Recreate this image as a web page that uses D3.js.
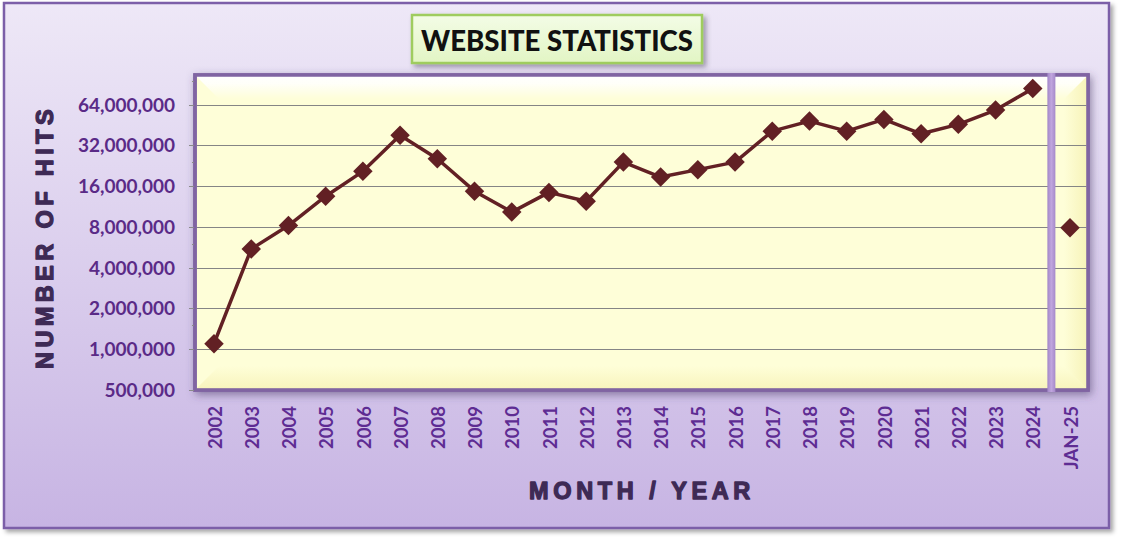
<!DOCTYPE html>
<html><head><meta charset="utf-8">
<script src="https://cdn.jsdelivr.net/npm/d3@7"></script>
<style>body{margin:0;background:#fff;} svg{display:block}</style>
</head><body>
<svg id="c" width="1122" height="541"></svg>
<script>
// ---------- data ----------
const years = ["2002","2003","2004","2005","2006","2007","2008","2009","2010","2011","2012","2013","2014","2015","2016","2017","2018","2019","2020","2021","2022","2023","2024"];
const hits = [1100000, 5500000, 8200000, 13500000, 20600000, 38100000, 25500000, 14700000, 10300000, 14400000, 12400000, 24100000, 18700000, 21200000, 24100000, 40800000, 48400000, 40800000, 49800000, 39000000, 45800000, 58400000, 84100000];
const monthLabels = ["JAN-25"];
const monthHits = [7900000];
const yTicks = [500000, 1000000, 2000000, 4000000, 8000000, 16000000, 32000000, 64000000];
const yMinorTicks = [1500000, 6000000, 24000000, 96000000];
const chartTitle = "WEBSITE STATISTICS";
const yTitle = "NUMBER OF HITS";
const xTitle = "MONTH / YEAR";

const categories = years.concat(monthLabels);

// ---------- layout ----------
const svg = d3.select("#c");
const plotL = 195, plotR = 1088, plotT = 75, plotB = 390;

const x = d3.scalePoint().domain(categories).range([plotL + 0.4, plotR + 0.6]).padding(0.5);
const y = d3.scaleLog().base(2).domain([500000, 106000000]).range([plotB, plotT]);

const defs = svg.append("defs");
const bg = defs.append("linearGradient").attr("id","bg").attr("x1",0).attr("y1",0).attr("x2",0).attr("y2",1);
bg.append("stop").attr("offset","0%").attr("stop-color","#eee8f7");
bg.append("stop").attr("offset","100%").attr("stop-color","#c7b4e3");

const tg = defs.append("linearGradient").attr("id","tg").attr("x1",0).attr("y1",0).attr("x2",0).attr("y2",1);
tg.append("stop").attr("offset","0%").attr("stop-color","#f3fce6");
tg.append("stop").attr("offset","100%").attr("stop-color","#e2f5c4");

const topBev = defs.append("linearGradient").attr("id","topBev").attr("x1",0).attr("y1",0).attr("x2",0).attr("y2",1);
topBev.append("stop").attr("offset","0%").attr("stop-color","#ffffff").attr("stop-opacity",1);
topBev.append("stop").attr("offset","35%").attr("stop-color","#ffffff").attr("stop-opacity",0.85);
topBev.append("stop").attr("offset","100%").attr("stop-color","#ffffff").attr("stop-opacity",0);

const rightBev = defs.append("linearGradient").attr("id","rightBev").attr("x1",0).attr("y1",0).attr("x2",1).attr("y2",0);
rightBev.append("stop").attr("offset","0%").attr("stop-color","#f6f1b4").attr("stop-opacity",0);
rightBev.append("stop").attr("offset","100%").attr("stop-color","#f6f1b4").attr("stop-opacity",0.9);

const botBev = defs.append("linearGradient").attr("id","botBev").attr("x1",0).attr("y1",0).attr("x2",0).attr("y2",1);
botBev.append("stop").attr("offset","0%").attr("stop-color","#f6f1b4").attr("stop-opacity",0);
botBev.append("stop").attr("offset","100%").attr("stop-color","#f6f1b4").attr("stop-opacity",0.8);

const barG = defs.append("linearGradient").attr("id","barG").attr("x1",0).attr("y1",0).attr("x2",1).attr("y2",0);
barG.append("stop").attr("offset","0%").attr("stop-color","#a287c8");
barG.append("stop").attr("offset","50%").attr("stop-color","#c0a5de");
barG.append("stop").attr("offset","100%").attr("stop-color","#a589ca");

function shadow(id, dx, dy, sd, col, op){
  const f = defs.append("filter").attr("id",id).attr("x","-10%").attr("y","-10%").attr("width","120%").attr("height","130%");
  f.append("feDropShadow").attr("dx",dx).attr("dy",dy).attr("stdDeviation",sd).attr("flood-color",col).attr("flood-opacity",op);
}
shadow("shOuter", 3, 3, 2, "#000", 0.35);
shadow("shPlot", 2, 3, 4, "#4a3a66", 0.55);
shadow("shTitle", 3, 3, 2.5, "#3a3050", 0.45);

// outer chart area
svg.append("rect").attr("x",4).attr("y",3).attr("width",1105).attr("height",525)
  .attr("fill","url(#bg)").attr("stroke","#7b5fa8").attr("stroke-width",2.5).attr("filter","url(#shOuter)");

// plot area
svg.append("rect").attr("x",plotL).attr("y",plotT).attr("width",plotR-plotL).attr("height",plotB-plotT)
  .attr("fill","#fefed8").attr("stroke","#8064a2").attr("stroke-width",3.5).attr("filter","url(#shPlot)");
const bev = 24;
svg.append("polygon").attr("points",`${plotR-bev},${plotT+bev} ${plotR},${plotT} ${plotR},${plotB} ${plotR-bev},${plotB-bev}`).attr("fill","url(#rightBev)");
svg.append("polygon").attr("points",`${plotL+bev},${plotB-bev} ${plotR-bev},${plotB-bev} ${plotR},${plotB} ${plotL},${plotB}`).attr("fill","url(#botBev)");
svg.append("polygon").attr("points",`${plotL},${plotT} ${plotR},${plotT} ${plotR-bev},${plotT+bev} ${plotL+bev},${plotT+bev}`).attr("fill","url(#topBev)");

// gridlines
svg.append("g").selectAll("line").data(yTicks.filter(v => v > 500000)).join("line")
  .attr("x1",plotL+1.5).attr("x2",plotR-1.5).attr("y1",d=>Math.round(y(d))+0.5).attr("y2",d=>Math.round(y(d))+0.5)
  .attr("stroke","#858585").attr("stroke-width",1.2);

// re-draw plot border on top
svg.append("rect").attr("x",plotL).attr("y",plotT).attr("width",plotR-plotL).attr("height",plotB-plotT)
  .attr("fill","none").attr("stroke","#8064a2").attr("stroke-width",3.5);

// y axis ticks
svg.append("g").selectAll("line").data(yTicks).join("line")
  .attr("x1",189).attr("x2",plotL-1).attr("y1",d=>Math.round(y(d))+0.5).attr("y2",d=>Math.round(y(d))+0.5)
  .attr("stroke","#8a8a8a").attr("stroke-width",1);
svg.append("g").selectAll("line").data(yMinorTicks).join("line")
  .attr("x1",192).attr("x2",plotL-1).attr("y1",d=>Math.round(y(d))+0.5).attr("y2",d=>Math.round(y(d))+0.5)
  .attr("stroke","#8a8a8a").attr("stroke-width",1);

// y tick labels
const fmt = d3.format(",");
svg.append("g").selectAll("text").data(yTicks).join("text")
  .attr("x",175).attr("y",d=>y(d)).attr("dy","0.36em").attr("text-anchor","end")
  .attr("font-family","Lato, 'Open Sans', sans-serif").attr("font-weight",700).attr("font-size",19)
  .attr("fill","#5a2a87").text(d=>fmt(d));

// x tick labels
svg.append("g").selectAll("text").data(categories).join("text")
  .attr("transform",d=>`translate(${x(d)+1},406) rotate(-90)`).attr("dy","0.36em").attr("text-anchor","end")
  .attr("font-family","Lato, 'Open Sans', sans-serif").attr("font-weight",700).attr("font-size",18.5)
  .attr("fill","#5e2c93").text(d=>d);

// divider bar between years and month
const divX = (x(years[years.length-1]) + x(monthLabels[0])) / 2;
svg.append("rect").attr("x",divX-4).attr("y",plotT-2).attr("width",8).attr("height",plotB-plotT+4)
  .attr("fill","url(#barG)");

// line
const lineCol = "#622024";
const line = d3.line().x((d,i)=>x(years[i])).y(d=>y(d));
svg.append("path").datum(hits).attr("d",line).attr("fill","none").attr("stroke",lineCol)
  .attr("stroke-width",3.5).attr("stroke-linejoin","round");

const sym = d3.symbol().type(d3.symbolSquare).size(190);
svg.append("g").selectAll("path").data(hits).join("path")
  .attr("d",sym).attr("transform",(d,i)=>`translate(${x(years[i])},${y(d)}) rotate(45)`)
  .attr("fill",lineCol);
svg.append("g").selectAll("path").data(monthHits).join("path")
  .attr("d",sym).attr("transform",(d,i)=>`translate(${x(monthLabels[i])},${y(d)}) rotate(45)`)
  .attr("fill",lineCol);

// axis titles (heavy)
svg.append("text").attr("transform",`translate(53,${237}) rotate(-90)`).attr("text-anchor","middle")
  .attr("font-family","'Liberation Sans', Arial, sans-serif").attr("font-weight",700).attr("font-size",23.5)
  .attr("letter-spacing","4.4px").attr("fill","#3e2a55").attr("stroke","#3e2a55").attr("stroke-width",1.3)
  .attr("stroke-linejoin","round").text(yTitle);
svg.append("text").attr("x",642).attr("y",499).attr("text-anchor","middle")
  .attr("font-family","'Liberation Sans', Arial, sans-serif").attr("font-weight",700).attr("font-size",23.5)
  .attr("letter-spacing","4.6px").attr("fill","#3e2a55").attr("stroke","#3e2a55").attr("stroke-width",1.3)
  .attr("stroke-linejoin","round").text(xTitle);

// title box
svg.append("rect").attr("x",412).attr("y",15).attr("width",290).attr("height",48)
  .attr("fill","url(#tg)").attr("stroke","#9fcc5f").attr("stroke-width",2.5).attr("filter","url(#shTitle)");
svg.append("text").attr("x",557).attr("y",51).attr("text-anchor","middle")
  .attr("font-family","Lato, 'Open Sans', sans-serif").attr("font-weight",900).attr("font-size",28)
  .attr("textLength",272).attr("lengthAdjust","spacingAndGlyphs")
  .attr("fill","#111").text(chartTitle);
</script>
</body></html>
